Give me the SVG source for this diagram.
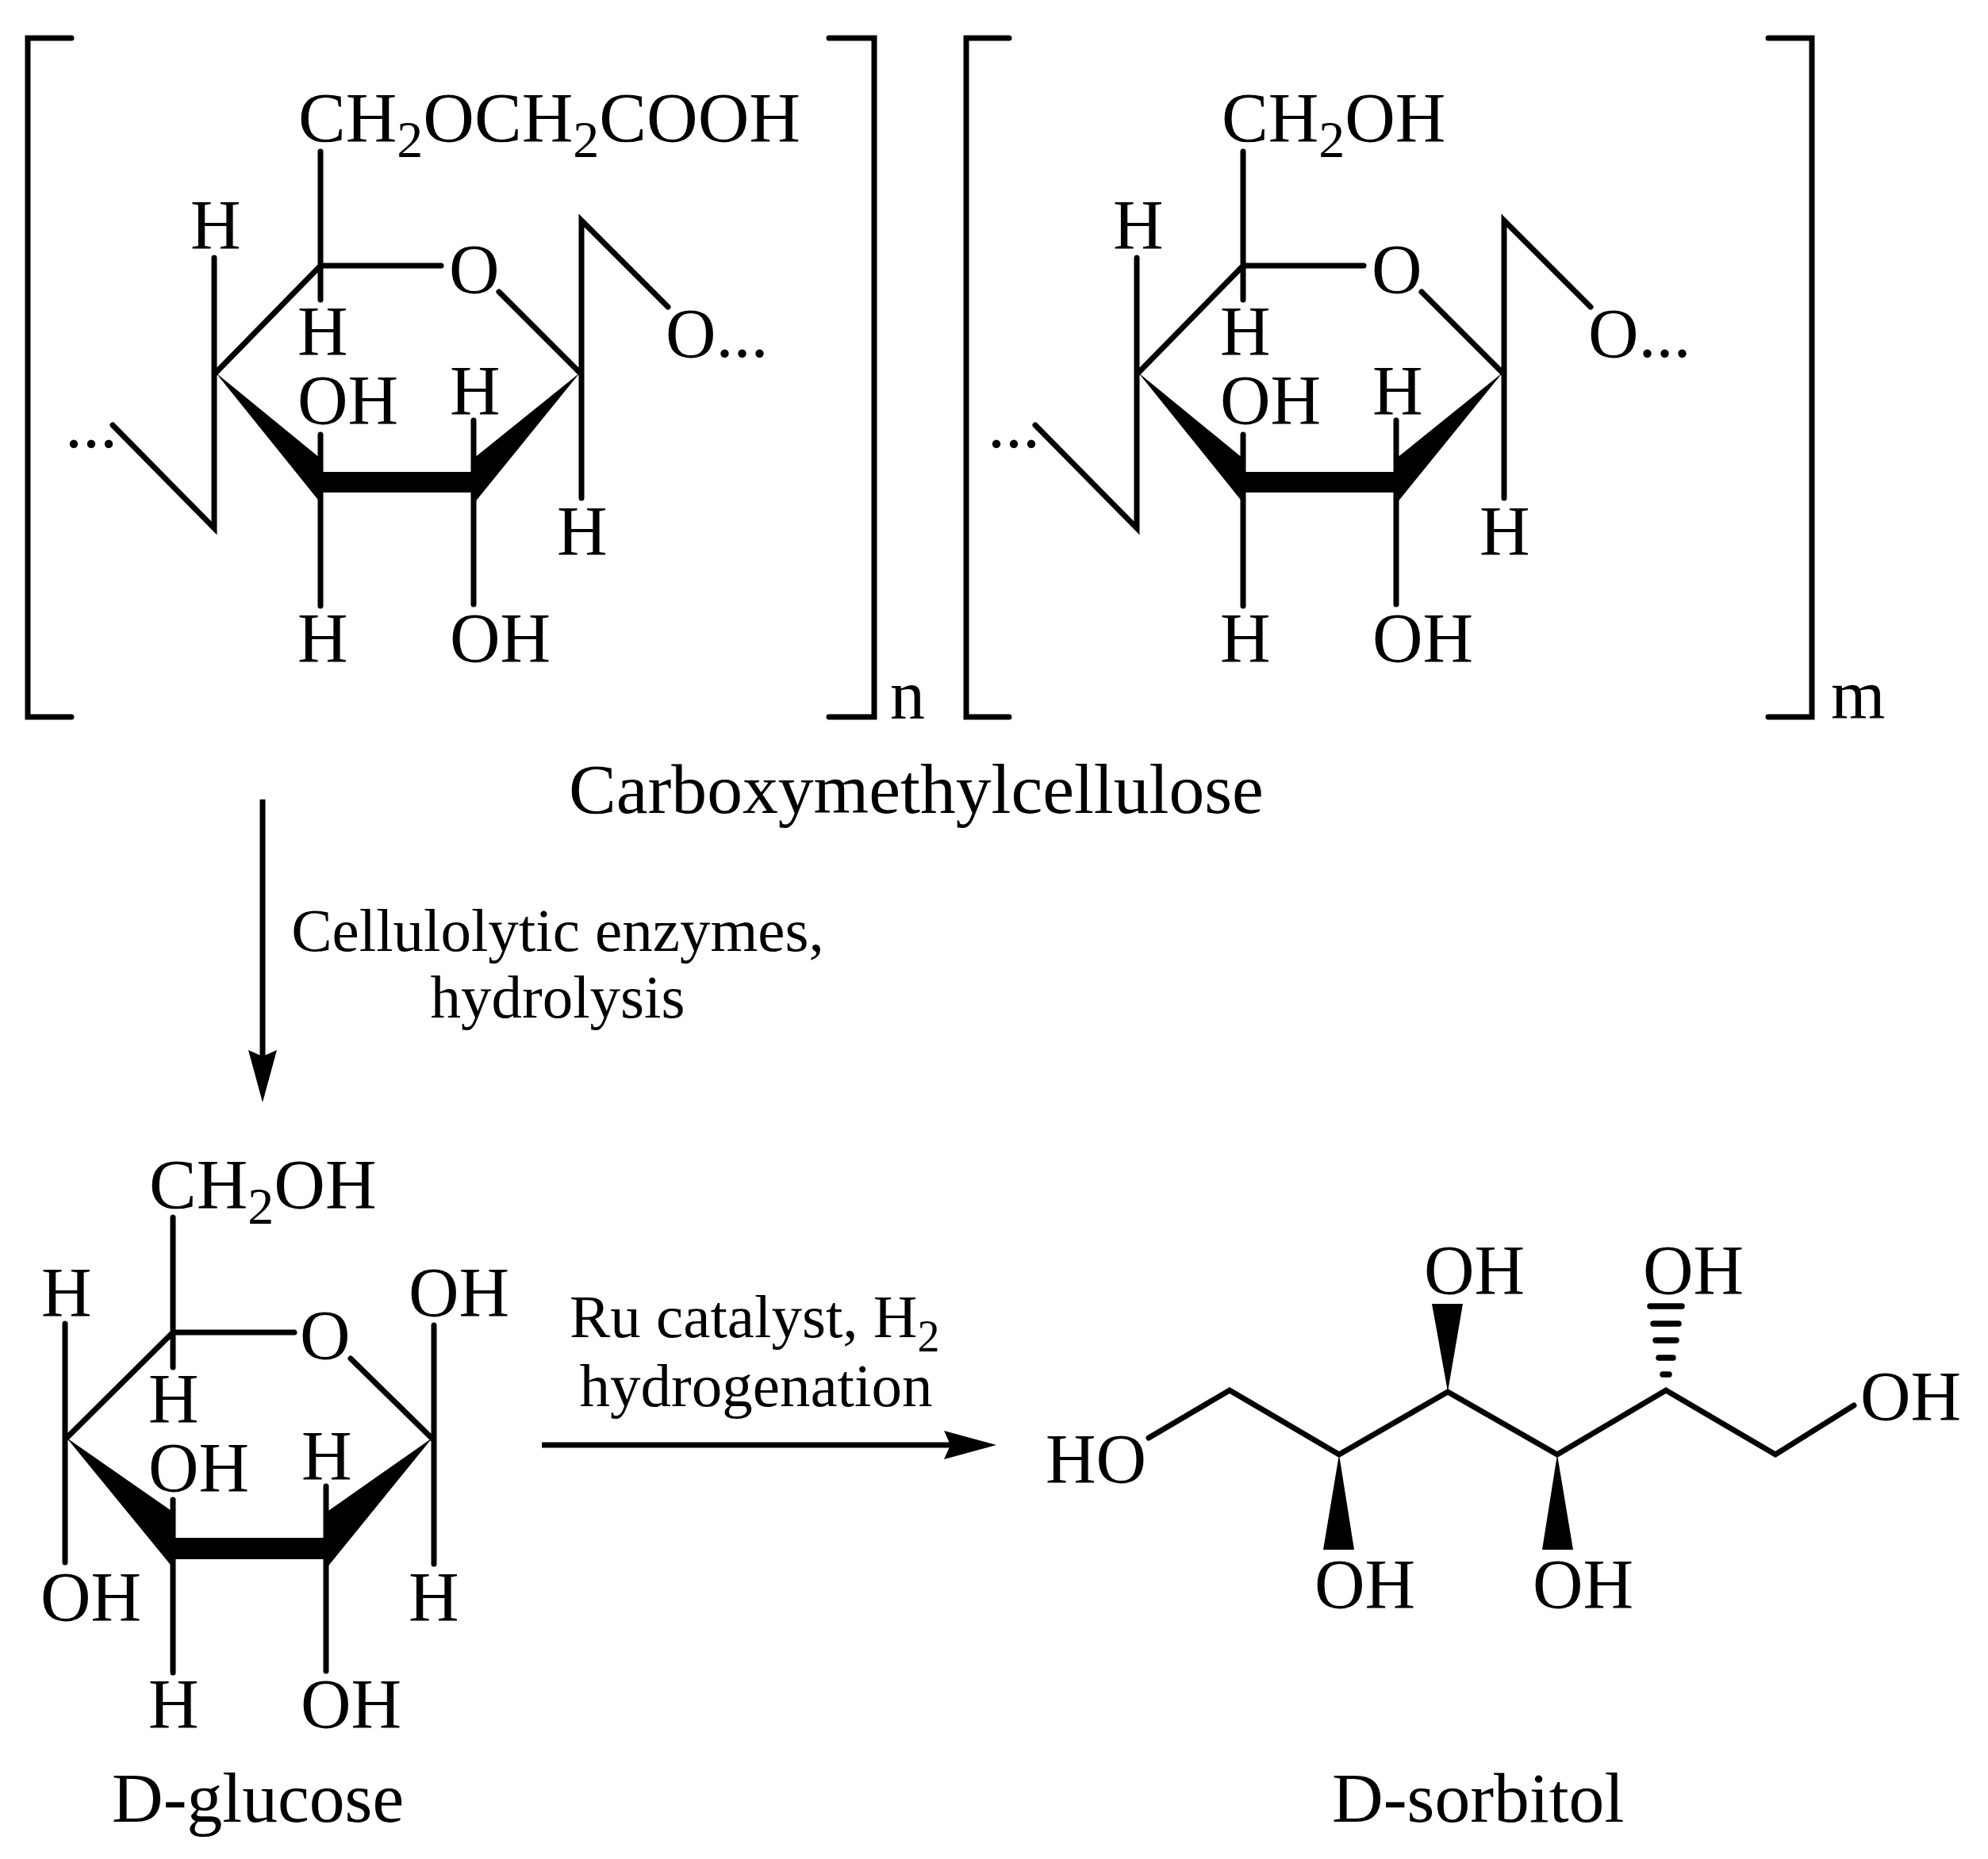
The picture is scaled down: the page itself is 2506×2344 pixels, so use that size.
<svg xmlns="http://www.w3.org/2000/svg" width="2506" height="2344" viewBox="0 0 2506 2344">
<defs>
<style>
text{font-family:"Liberation Serif","Times New Roman",serif;font-size:88px;fill:#000}
text.s{font-size:77px}
text.l{font-size:89.6px}
text.f{font-size:89.5px}
tspan.b{font-size:66px}
tspan.c{font-size:56px}
.bond{fill:none;stroke:#000;stroke-width:7;stroke-linecap:round;stroke-linejoin:miter}
.solid{fill:#000;stroke:none}
.hash{fill:none;stroke:#000;stroke-width:7.5;stroke-linecap:round}
.arrow{fill:none;stroke:#000;stroke-width:7}
</style>
<marker id="head" markerUnits="userSpaceOnUse" markerWidth="66" markerHeight="36" refX="16" refY="18" orient="auto"><path d="M0 0L66 18L0 36L8 18Z" fill="#000"/></marker>
<g id="unit">
<path class="bond" d="M404 191V378M404 335H556M629 368L733 472M404 335L270 472M270 325V666L142 536M733 628V278L842 387M404 548V764M597 530V762"/>
<path class="solid" d="M272 470L404 578V595H597V578L731 470L598 634V621H404V634Z"/>
<text x="240" y="313">H</text><text x="375" y="447">H</text><text x="566" y="369">O</text><text x="839" y="450">O...</text>
<text x="82" y="564">...</text><text x="375" y="534">OH</text><text x="567" y="522">H</text><text x="702" y="699">H</text>
<text x="375" y="834">H</text><text x="567" y="834">OH</text>
</g>
</defs>
<rect width="2506" height="2344" fill="#fff"/>
<g id="cmc-unit-n">
<use href="#unit"/>
<path class="bond" d="M90 48H35V904H90M1045 48H1102V904H1045"/>
<text class="f" x="376" y="178">CH<tspan class="b" dy="20">2</tspan><tspan dy="-20">OCH</tspan><tspan class="b" dy="20">2</tspan><tspan dy="-20">COOH</tspan></text>
<text x="1122" y="906">n</text>
</g>
<g id="cmc-unit-m">
<use href="#unit" x="1163"/>
<path class="bond" d="M1272 48H1218V904H1272M2229 48H2284V904H2229"/>
<text x="1540" y="178">CH<tspan class="b" dy="20">2</tspan><tspan dy="-20">OH</tspan></text>
<text x="2308" y="906">m</text>
</g>
<text id="cmc-label" class="l" x="717" y="1025">Carboxymethylcellulose</text>
<g id="glucose">
<path class="bond" d="M218 1535V1724M218 1680H371M442 1713L546 1815M218 1680L82 1815M82 1669V1970M547 1671V1972M218 1891V2109M411 1874V2107"/>
<path class="solid" d="M84 1813L219 1907V1939H411V1907L545 1813L411 1978V1966H219V1978Z"/>
<text class="f" x="188" y="1523">CH<tspan class="b" dy="20">2</tspan><tspan dy="-20">OH</tspan></text>
<text x="52" y="1659">H</text><text x="515" y="1659">OH</text><text x="378" y="1713">O</text><text x="187" y="1793">H</text>
<text x="187" y="1880">OH</text><text x="380" y="1865">H</text><text x="51" y="2043">OH</text><text x="515" y="2043">H</text>
<text x="187" y="2178">H</text><text x="379" y="2178">OH</text>
<text class="l" x="141" y="2297">D-glucose</text>
</g>
<g id="sorbitol">
<path class="bond" d="M1448 1813L1550 1753L1688 1834L1825 1755L1963 1834L2100 1753L2238 1834L2337 1772"/>
<path class="solid" d="M1825 1755L1805 1644H1844ZM1688 1834L1668 1954H1707ZM1963 1834L1944 1954H1983Z"/>
<path class="hash" d="M2080 1647H2120M2084 1669H2116M2087 1690H2113M2091 1712H2109M2096 1733H2104"/>
<text x="1318" y="1869">HO</text><text x="1795" y="1631">OH</text><text x="2071" y="1631">OH</text><text x="2345" y="1790">OH</text>
<text x="1657" y="2027">OH</text><text x="1932" y="2027">OH</text>
<text class="l" x="1679" y="2297">D-sorbitol</text>
</g>
<g id="connectors">
<line class="arrow" x1="331" y1="1008" x2="331" y2="1340" marker-end="url(#head)"/>
<line class="arrow" x1="683" y1="1822" x2="1206" y2="1822" marker-end="url(#head)"/>
</g>
<g id="labels">
<text class="s" x="703" y="1199" text-anchor="middle">Cellulolytic enzymes,</text>
<text class="s" x="703" y="1283" text-anchor="middle">hydrolysis</text>
<text class="s" x="718" y="1686">Ru catalyst, H<tspan class="c" dy="18">2</tspan></text>
<text class="s" x="953" y="1773" text-anchor="middle">hydrogenation</text>
</g>
</svg>
